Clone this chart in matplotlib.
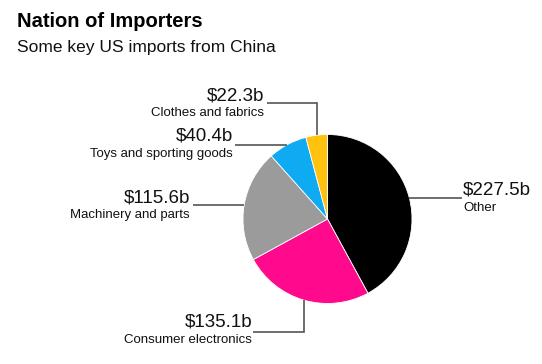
import numpy as np
import matplotlib
matplotlib.use("Agg")
import matplotlib.pyplot as plt

plt.rcParams['font.family'] = ['Liberation Sans', 'DejaVu Sans']

categories = ["Other", "Consumer electronics", "Machinery and parts",
              "Toys and sporting goods", "Clothes and fabrics"]
values = [227.5, 135.1, 115.6, 40.4, 22.3]
value_labels = ["$227.5b", "$135.1b", "$115.6b", "$40.4b", "$22.3b"]
colors = ["#000000", "#FF0A8C", "#9B9B9B", "#0EAAF2", "#FFC20E"]

W, H = 542, 364
fig = plt.figure(figsize=(W / 100, H / 100), dpi=100)
ax = fig.add_axes([0, 0, 1, 1])

def Y(y):
    return H - y

cx, cy, R = 327.5, 219, 84.5
wedges, _ = ax.pie(values, colors=colors, startangle=90, counterclock=False,
                   center=(cx, Y(cy)), radius=R,
                   wedgeprops=dict(linewidth=0.6, edgecolor="white"))
ax.set_xlim(0, W)
ax.set_ylim(0, H)
ax.set_axis_off()

# anchor points at the middle of each wedge's arc
anchors = []
for w in wedges:
    mid = np.deg2rad((w.theta1 + w.theta2) / 2)
    anchors.append((cx + R * np.cos(mid), Y(cy) + R * np.sin(mid)))

lc = "#555555"
lw = 1.2
# label layout: (elbow type, line end, text x, value baseline y, align)
layout = {
    "Other": ("h", (462, None), 463, 195, "left"),
    "Consumer electronics": ("vh", (253, 332), 252, 327, "right"),
    "Machinery and parts": ("h", (193, None), 190, 202, "right"),
    "Toys and sporting goods": ("h", (235, None), 233, 141, "right"),
    "Clothes and fabrics": ("vh", (267, 103), 264, 100, "right"),
}

for cat, vl, (ax_x, ax_y) in zip(categories, value_labels, anchors):
    kind, (ex, ey), tx, ty, ha = layout[cat]
    if kind == "h":
        ax.plot([ax_x, ex], [ax_y, ax_y], color=lc, lw=lw, solid_capstyle="butt")
    else:
        ax.plot([ax_x, ax_x, ex], [ax_y, Y(ey), Y(ey)], color=lc, lw=lw,
                solid_capstyle="butt", solid_joinstyle="miter")
    ax.text(tx, Y(ty), vl, ha=ha, va="baseline", fontsize=13.5, color="#111111")
    ax.text(tx, Y(ty + 16), cat, ha=ha, va="baseline", fontsize=9.5, color="#111111")

fig.text(17 / W, Y(27) / H, "Nation of Importers", fontsize=14.5, fontweight="bold",
         ha="left", va="baseline", color="#000000")
fig.text(17 / W, Y(52) / H, "Some key US imports from China", fontsize=12.5,
         ha="left", va="baseline", color="#111111")

fig.savefig("out.png", dpi=100, facecolor="white")
